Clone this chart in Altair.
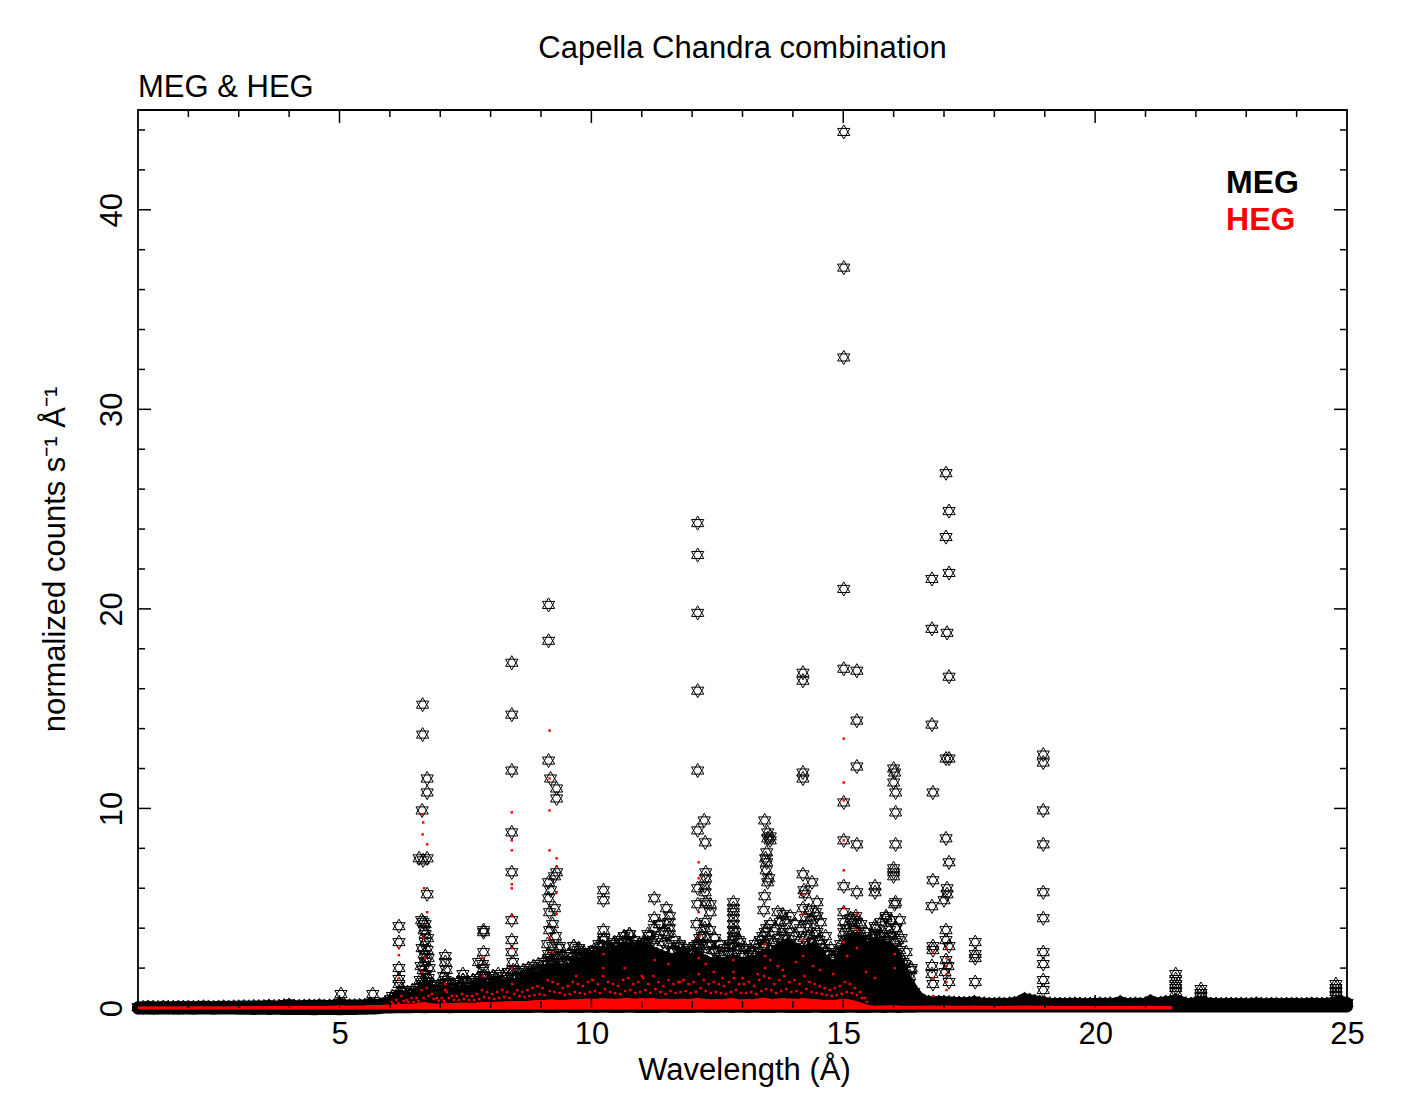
import altair as alt
import pandas as pd

# ------------------------------------------------------------------
# Data
# ------------------------------------------------------------------
# Dense part of the spectra, summarised per 0.1 Å bin (bin centres 1.0, 1.1, ...)
BIN_START = 1.0
BIN_WIDTH = 0.1

# MEG: highest / lowest value of the crowded points in each bin (1.0 .. 25.0 Å)
meg_band_hi = [
    0.04, 0.03, 0.05, 0.04, 0.03, 0.05, 0.04, 0.04, 0.05, 0.04,
    0.05, 0.04, 0.05, 0.06, 0.05, 0.04, 0.05, 0.06, 0.05, 0.06,
    0.06, 0.07, 0.06, 0.08, 0.07, 0.08, 0.10, 0.08, 0.09, 0.12,
    0.15, 0.10, 0.09, 0.10, 0.11, 0.10, 0.12, 0.10, 0.11, 0.13,
    0.20, 0.14, 0.12, 0.12, 0.13, 0.14, 0.20, 0.15, 0.18, 0.25,
    0.30, 0.35, 0.45, 0.45, 0.45, 0.50, 0.60, 0.70, 0.70, 0.65,
    0.70, 0.80, 0.75, 0.80, 0.80, 0.85, 0.85, 0.90, 1.00, 1.00,
    1.05, 1.10, 1.10, 1.15, 1.20, 1.20, 1.30, 1.35, 1.50, 1.55,
    1.60, 1.80, 1.90, 2.00, 1.90, 1.90, 2.00, 2.20, 2.20, 2.40,
    2.50, 2.60, 2.70, 2.50, 2.60, 2.80, 2.90, 3.00, 2.90, 2.80,
    3.00, 2.90, 2.80, 2.70, 2.60, 2.50, 2.40, 2.50, 2.60, 2.50,
    2.40, 2.50, 2.40, 2.30, 2.20, 2.30, 2.20, 2.30, 2.40, 2.30,
    2.20, 2.30, 2.20, 2.40, 2.60, 2.70, 2.60, 2.90, 3.10, 3.20,
    3.00, 2.90, 2.80, 2.90, 3.00, 2.80, 2.40, 2.20, 2.10, 2.20,
    2.80, 3.30, 3.50, 3.40, 3.10, 3.00, 3.10, 3.20, 3.10, 3.00,
    2.80, 2.30, 1.60, 1.20, 0.80, 0.50, 0.35, 0.30, 0.28, 0.30,
    0.30, 0.28, 0.26, 0.25, 0.24, 0.25, 0.30, 0.24, 0.22, 0.20,
    0.20, 0.21, 0.20, 0.22, 0.25, 0.30, 0.45, 0.40, 0.35, 0.30,
    0.25, 0.22, 0.20, 0.20, 0.19, 0.20, 0.21, 0.20, 0.19, 0.20,
    0.20, 0.21, 0.20, 0.22, 0.20, 0.30, 0.20, 0.20, 0.21, 0.20,
    0.21, 0.35, 0.22, 0.25, 0.30, 0.30, 0.40, 0.30, 0.22, 0.20,
    0.25, 0.30, 0.25, 0.20, 0.20, 0.19, 0.20, 0.20, 0.19, 0.20,
    0.19, 0.20, 0.22, 0.20, 0.19, 0.20, 0.20, 0.19, 0.20, 0.20,
    0.20, 0.19, 0.20, 0.21, 0.20, 0.20, 0.20, 0.25, 0.30, 0.30,
    0.25,
]
meg_band_lo = [
    -0.03, -0.02, -0.03, -0.04, -0.03, -0.02, -0.03, -0.03, -0.04, -0.03,
    -0.03, -0.04, -0.03, -0.02, -0.03, -0.04, -0.03, -0.03, -0.02, -0.03,
    -0.04, -0.03, -0.04, -0.05, -0.04, -0.03, -0.05, -0.04, -0.04, -0.05,
    -0.05, -0.04, -0.05, -0.04, -0.05, -0.06, -0.05, -0.04, -0.05, -0.05,
    -0.06, -0.05, -0.04, -0.05, -0.04, -0.04, -0.03, -0.02, 0.00, 0.02,
    0.03, 0.04, 0.04, 0.05, 0.04, 0.05, 0.05, 0.04, 0.05, 0.05,
    0.05, 0.05, 0.04, 0.05, 0.05, 0.06, 0.05, 0.05, 0.06, 0.05,
    0.05, 0.06, 0.05, 0.05, 0.06, 0.05, 0.06, 0.05, 0.05, 0.06,
    0.06, 0.05, 0.06, 0.05, 0.06, 0.06, 0.05, 0.06, 0.05, 0.06,
    0.06, 0.05, 0.06, 0.06, 0.05, 0.06, 0.05, 0.06, 0.06, 0.05,
    0.06, 0.05, 0.06, 0.05, 0.06, 0.06, 0.05, 0.06, 0.05, 0.06,
    0.05, 0.06, 0.06, 0.05, 0.06, 0.05, 0.06, 0.06, 0.05, 0.06,
    0.06, 0.05, 0.06, 0.06, 0.05, 0.06, 0.05, 0.06, 0.06, 0.05,
    0.06, 0.05, 0.06, 0.05, 0.06, 0.06, 0.05, 0.06, 0.05, 0.06,
    0.05, 0.06, 0.06, 0.05, 0.06, 0.05, 0.06, 0.06, 0.05, 0.06,
    0.06, 0.05, 0.06, 0.06, 0.06, 0.07, 0.07, 0.08, 0.07, 0.08,
    0.07, 0.08, 0.07, 0.07, 0.08, 0.07, 0.08, 0.07, 0.07, 0.08,
    0.07, 0.07, 0.08, 0.07, 0.07, 0.08, 0.07, 0.08, 0.07, 0.07,
    0.08, 0.07, 0.07, 0.08, 0.07, 0.07, 0.08, 0.07, 0.07, 0.08,
    0.07, 0.07, 0.08, 0.07, 0.08, 0.07, 0.07, 0.08, 0.07, 0.07,
    0.08, 0.07, 0.07, 0.08, 0.07, 0.07, 0.08, 0.07, 0.07, 0.08,
    0.07, 0.07, 0.08, 0.07, 0.07, 0.08, 0.07, 0.07, 0.08, 0.07,
    0.07, 0.08, 0.07, 0.07, 0.08, 0.07, 0.07, 0.08, 0.07, 0.07,
    0.08, 0.07, 0.07, 0.08, 0.07, 0.07, 0.08, 0.07, 0.07, 0.08,
    0.07,
]

# MEG: scattered stars above the crowded band, two per bin (6.05 .. 16.35 Å)
MEG_SCATTER_START = 6.05
meg_scatter_top = [
    0.6, 0.7, 0.9, 0.8, 0.9, 1.0, 1.2, 1.3, 1.2, 1.1,
    1.2, 1.3, 1.2, 1.3, 1.4, 1.3, 1.4, 1.5, 1.6, 1.5,
    1.6, 1.7, 1.6, 1.8, 1.9, 1.8, 1.9, 2.0, 2.1, 2.2,
    2.3, 2.5, 2.6, 3.0, 2.6, 2.7, 3.1, 3.0, 2.8, 2.7,
    2.9, 3.2, 3.5, 3.0, 3.2, 3.4, 3.6, 3.7, 3.4, 3.2,
    3.3, 3.6, 4.0, 4.2, 3.8, 4.0, 3.4, 3.2, 3.0, 2.9,
    3.1, 3.5, 4.0, 3.9, 3.5, 3.2, 3.0, 3.2, 3.8, 3.3,
    3.0, 2.9, 3.2, 3.4, 3.8, 4.2, 4.0, 4.3, 4.4, 4.6,
    4.2, 4.0, 4.5, 4.4, 4.8, 4.3, 3.6, 3.0, 2.8, 3.2,
    4.0, 4.5, 4.6, 4.2, 3.8, 3.6, 4.0, 4.3, 4.6, 4.4,
    4.0, 3.5, 2.8, 2.0,
]
meg_scatter_mid = [
    0.45, 0.55, 0.65, 0.6, 0.7, 0.75, 0.9, 1.0, 0.95, 0.9,
    0.95, 1.05, 1.0, 1.05, 1.1, 1.05, 1.1, 1.2, 1.3, 1.25,
    1.3, 1.4, 1.35, 1.45, 1.55, 1.5, 1.6, 1.7, 1.8, 1.9,
    2.0, 2.2, 2.3, 2.5, 2.3, 2.3, 2.6, 2.6, 2.5, 2.6,
    2.8, 2.9, 3.1, 2.8, 2.9, 3.1, 3.3, 3.4, 3.2, 3.1,
    3.2, 3.3, 3.4, 3.5, 3.3, 3.2, 2.9, 2.8, 2.8, 2.7,
    2.8, 3.0, 3.2, 3.1, 2.9, 2.8, 2.7, 2.8, 3.1, 2.9,
    2.7, 2.7, 2.8, 3.0, 3.2, 3.4, 3.3, 3.5, 3.6, 3.8,
    3.6, 3.4, 3.5, 3.6, 3.7, 3.4, 3.0, 2.7, 2.5, 2.8,
    3.4, 3.8, 3.9, 3.7, 3.4, 3.3, 3.5, 3.6, 3.7, 3.6,
    3.3, 2.9, 2.2, 1.6,
]

# HEG: top of the crowded red points per bin (1.0 .. 21.5 Å)
heg_band_hi = [
    0.00, 0.01, 0.00, 0.01, 0.00, 0.01, 0.00, 0.01, 0.00, 0.01,
    0.01, 0.00, 0.01, 0.01, 0.00, 0.01, 0.01, 0.00, 0.01, 0.01,
    0.01, 0.02, 0.01, 0.02, 0.02, 0.01, 0.03, 0.02, 0.02, 0.03,
    0.04, 0.03, 0.02, 0.03, 0.04, 0.03, 0.04, 0.03, 0.04, 0.05,
    0.08, 0.05, 0.04, 0.05, 0.05, 0.06, 0.08, 0.07, 0.08, 0.10,
    0.10, 0.10, 0.12, 0.12, 0.14, 0.15, 0.20, 0.22, 0.18, 0.15,
    0.16, 0.20, 0.18, 0.18, 0.20, 0.20, 0.19, 0.20, 0.22, 0.22,
    0.22, 0.24, 0.24, 0.26, 0.28, 0.27, 0.27, 0.28, 0.30, 0.32,
    0.32, 0.34, 0.36, 0.34, 0.33, 0.34, 0.36, 0.36, 0.38, 0.40,
    0.40, 0.38, 0.42, 0.40, 0.40, 0.38, 0.42, 0.44, 0.40, 0.40,
    0.42, 0.40, 0.44, 0.40, 0.38, 0.40, 0.36, 0.38, 0.40, 0.38,
    0.40, 0.42, 0.40, 0.38, 0.36, 0.38, 0.36, 0.40, 0.42, 0.38,
    0.36, 0.38, 0.36, 0.40, 0.44, 0.42, 0.38, 0.40, 0.42, 0.40,
    0.40, 0.38, 0.42, 0.40, 0.38, 0.36, 0.34, 0.33, 0.33, 0.36,
    0.40, 0.36, 0.32, 0.24, 0.14, 0.08, 0.05, 0.04, 0.05, 0.06,
    0.08, 0.05, 0.04, 0.04, 0.04, 0.04, 0.05, 0.05, 0.05, 0.04,
    0.06, 0.05, 0.04, 0.04, 0.04, 0.04, 0.05, 0.04, 0.04, 0.04,
    0.04, 0.03, 0.04, 0.04, 0.04, 0.05, 0.05, 0.05, 0.04, 0.05,
    0.05, 0.04, 0.03, 0.03, 0.03, 0.04, 0.03, 0.03, 0.03, 0.03,
    0.03, 0.03, 0.03, 0.04, 0.03, 0.03, 0.03, 0.04, 0.03, 0.03,
    0.03, 0.04, 0.03, 0.03, 0.03, 0.03,
]

# HEG: scattered red points above the crowded band, two per bin (6.0 .. 15.4 Å)
HEG_SCATTER_START = 6.0
heg_scatter_top = [
    0.3, 0.4, 0.6, 0.4, 0.5, 0.5, 0.9, 1.0, 0.7, 0.5,
    0.5, 0.8, 0.6, 0.6, 0.7, 0.6, 0.6, 0.7, 0.9, 0.8,
    0.7, 0.8, 0.9, 0.8, 1.2, 0.9, 0.8, 0.9, 1.0, 1.1,
    1.0, 1.4, 1.3, 1.2, 1.0, 1.1, 1.3, 1.2, 1.1, 1.3,
    1.4, 1.2, 1.6, 1.3, 1.2, 1.1, 1.4, 1.5, 1.2, 1.3,
    1.5, 1.2, 1.6, 1.3, 1.1, 1.4, 1.2, 1.3, 1.4, 1.2,
    1.3, 1.7, 1.4, 1.2, 1.3, 1.2, 1.1, 1.3, 1.5, 1.2,
    1.2, 1.3, 1.1, 1.4, 1.6, 1.5, 1.2, 1.4, 1.6, 1.3,
    1.4, 1.2, 1.6, 1.3, 1.2, 1.1, 1.0, 0.9, 1.0, 1.1,
    1.3, 1.2, 1.0, 0.8, 0.5,
]
heg_scatter_mid = [
    0.2, 0.25, 0.35, 0.3, 0.3, 0.35, 0.5, 0.6, 0.45, 0.35,
    0.35, 0.5, 0.4, 0.4, 0.45, 0.4, 0.4, 0.45, 0.55, 0.5,
    0.45, 0.5, 0.55, 0.5, 0.7, 0.6, 0.55, 0.6, 0.65, 0.7,
    0.65, 0.85, 0.8, 0.75, 0.65, 0.7, 0.8, 0.75, 0.7, 0.8,
    0.85, 0.75, 0.95, 0.8, 0.75, 0.7, 0.85, 0.9, 0.75, 0.8,
    0.9, 0.75, 0.95, 0.8, 0.7, 0.85, 0.75, 0.8, 0.85, 0.75,
    0.8, 1.0, 0.85, 0.75, 0.8, 0.75, 0.7, 0.8, 0.9, 0.75,
    0.75, 0.8, 0.7, 0.85, 0.95, 0.9, 0.75, 0.85, 0.95, 0.8,
    0.85, 0.75, 0.95, 0.8, 0.75, 0.7, 0.65, 0.6, 0.65, 0.7,
    0.8, 0.75, 0.65, 0.5, 0.3,
]

# MEG points standing out above the crowded band (emission lines)
meg_peak_wave = [
    6.18, 6.18, 6.18, 6.18, 6.18,
    6.65, 6.65, 6.74, 6.74, 6.64, 6.58, 6.74, 6.66, 6.74, 6.63,
    6.70, 6.66, 6.70, 6.68, 6.70, 6.66, 6.72, 6.68, 6.62, 6.75,
    6.74, 6.68, 6.64, 6.76, 6.62, 6.76, 6.74, 6.60, 6.70, 6.78,
    7.10, 7.10, 7.10, 7.07, 7.45, 7.45, 7.12, 7.43,
    7.86, 7.86, 7.86, 7.76, 7.86, 7.88, 7.84, 7.80,
    8.42, 8.42, 8.42, 8.42, 8.42, 8.42, 8.42, 8.42, 8.42, 8.44,
    9.15, 9.15, 9.15, 9.19, 9.31, 9.31, 9.31, 9.27, 9.15, 9.15,
    9.17, 9.17, 9.13, 9.23, 9.19, 9.27, 9.23, 9.29, 9.15, 9.21,
    9.45, 9.65, 9.65, 9.73, 9.37, 9.37, 9.75, 9.99, 9.58, 9.87,
    10.24, 10.24, 10.24, 10.24, 10.24, 10.46, 10.76, 10.70, 10.32, 10.64,
    11.25, 11.12, 11.25, 11.35, 11.06, 11.49, 11.53, 11.53, 11.73, 11.61, 11.55,
    12.11, 12.11, 12.11, 12.11, 12.11, 12.11, 12.11, 12.11, 12.11,
    12.24, 12.26, 12.27, 12.27, 12.25, 12.26, 12.27, 12.26, 12.36, 12.36,
    12.09, 12.13, 12.35, 12.17, 12.13, 12.44, 12.20,
    12.82, 12.82, 12.82, 12.82, 12.82, 12.82, 12.82, 12.82, 12.82, 12.92,
    13.44, 13.50, 13.50, 13.48, 13.46, 13.48, 13.47, 13.50, 13.44, 13.42,
    13.48, 13.42, 13.55, 13.55, 13.70, 13.80, 13.80, 13.52, 13.40, 13.60,
    14.20, 14.20, 14.20, 14.20, 14.20, 14.22, 14.24, 14.20,
    14.38, 14.38, 14.48, 14.48, 14.48, 14.28, 14.65, 14.18, 14.32, 14.56,
    15.01, 15.01, 15.01, 15.01, 15.01, 15.01, 15.01, 15.01, 15.01, 15.01, 15.01, 15.08,
    15.27, 15.27, 15.27, 15.27, 15.27, 15.27, 15.45, 15.45, 15.30, 15.20,
    15.63, 15.63, 15.63, 15.63, 15.85, 15.85, 15.85, 15.75, 15.55, 15.92,
    16.00, 16.02, 16.00, 16.04, 16.04, 16.04, 16.00, 16.00, 16.00, 16.04,
    16.02, 16.04, 16.04, 16.19, 16.34, 16.08, 16.12,
    16.76, 16.76, 16.76, 16.78, 16.78, 16.76, 16.78, 16.76, 16.78, 16.78, 16.76,
    17.04, 17.10, 17.04, 17.10, 17.06, 17.10, 17.04, 17.10, 17.04, 17.10,
    17.06, 17.00, 17.04, 17.04, 17.10, 17.04, 17.10, 17.06, 17.02, 17.08,
    17.62, 17.62, 17.62, 17.62,
    18.97, 18.97, 18.97, 18.97, 18.97, 18.97, 18.97, 18.97, 18.97, 18.97,
    21.60, 21.60, 21.60, 21.60, 21.60, 22.10, 22.10, 22.10,
    24.78, 24.78, 24.78, 24.78, 5.03, 5.66,
]
meg_peak_flux = [
    4.1, 3.3, 2.0, 1.45, 1.2,
    15.2, 13.7, 11.5, 10.8, 9.9, 7.5, 7.5, 7.4, 5.7, 4.4,
    4.2, 4.3, 3.3, 2.7, 2.3, 1.9, 1.7, 1.3, 0.8, 3.5,
    2.9, 3.9, 3.0, 2.5, 2.1, 1.5, 1.1, 1.4, 3.7, 2.0,
    2.6, 2.3, 1.4, 1.6, 1.7, 1.4, 1.9, 1.1,
    3.9, 3.8, 2.8, 2.3, 2.0, 1.6, 2.2, 1.3,
    17.3, 14.7, 11.9, 8.8, 6.8, 4.4, 3.4, 2.8, 1.8, 2.3,
    20.2, 18.4, 12.4, 11.5, 11.0, 10.5, 6.8, 6.6, 6.3, 5.5,
    4.8, 3.9, 3.2, 3.1, 5.9, 5.0, 4.2, 3.6, 2.7, 2.4,
    2.6, 3.1, 2.3, 2.9, 3.1, 2.6, 2.7, 2.8, 2.4, 2.6,
    5.9, 5.4, 3.9, 3.4, 2.8, 3.3, 3.7, 3.3, 2.65, 3.0,
    5.5, 3.7, 4.5, 4.2, 3.1, 5.0, 4.3, 3.7, 3.1, 2.8, 4.6,
    24.3, 22.7, 19.8, 15.9, 11.9, 8.9, 6.0, 5.2, 3.2,
    9.4, 8.3, 6.8, 6.5, 6.1, 5.8, 5.3, 4.3, 5.2, 4.8,
    4.2, 3.2, 3.2, 2.6, 2.3, 2.9, 3.6,
    5.3, 5.0, 4.8, 4.5, 4.2, 3.9, 3.6, 3.4, 2.7, 3.4,
    9.4, 8.8, 8.5, 7.8, 7.5, 7.3, 6.9, 6.3, 5.6, 4.9,
    4.0, 3.1, 8.6, 8.4, 4.8, 4.7, 3.8, 6.5, 3.6, 3.3,
    16.8, 16.4, 11.8, 11.5, 6.7, 5.9, 5.7, 5.0,
    6.3, 3.3, 5.3, 4.6, 3.8, 4.2, 2.8, 2.6, 4.9, 3.2,
    43.9, 37.1, 32.6, 21.0, 17.0, 10.3, 8.4, 6.1, 4.8, 4.3, 3.8, 3.4,
    16.9, 14.4, 12.1, 8.2, 5.8, 4.3, 3.3, 2.8, 3.6, 4.4,
    6.1, 5.8, 4.1, 3.7, 4.5, 3.4, 2.8, 3.6, 3.1, 3.9,
    12.0, 11.8, 11.3, 10.8, 9.8, 8.2, 7.0, 6.8, 6.6, 5.3,
    5.2, 4.0, 2.7, 2.3, 1.9, 3.4, 4.4,
    21.5, 19.0, 14.2, 10.8, 6.4, 5.1, 2.9, 2.1, 1.2, 3.1, 1.7,
    26.8, 24.9, 23.6, 21.8, 18.8, 16.6, 12.5, 12.5, 8.5, 7.3,
    6.0, 5.4, 3.9, 3.4, 3.1, 2.4, 1.3, 5.7, 1.8, 2.1,
    3.3, 2.7, 2.5, 1.3,
    12.7, 12.3, 9.9, 8.2, 5.8, 4.5, 2.8, 2.2, 1.4, 0.9,
    1.7, 1.45, 1.2, 1.0, 0.8, 0.95, 0.75, 0.55,
    1.2, 1.0, 0.8, 0.6, 0.7, 0.7,
]

# HEG points standing out above the crowded band
heg_peak_wave = [
    6.65, 6.66, 6.65, 6.74, 6.74, 6.68, 6.66, 6.70, 6.64,
    6.18, 6.18, 6.18,
    7.10, 7.10, 7.85, 7.85,
    8.42, 8.42, 8.42, 8.42, 8.42, 8.42, 8.42, 8.42,
    9.17, 9.17, 9.17, 9.17, 9.31, 9.31, 9.31, 9.31, 9.17, 9.23,
    10.24, 10.24,
    12.13, 12.13, 12.13, 12.15, 12.13, 12.27,
    12.82, 12.82,
    13.45, 13.45, 13.45, 13.55,
    14.20, 14.20, 14.20, 14.20,
    15.01, 15.01, 15.01, 15.01, 15.01, 15.01, 15.01,
    15.27, 15.27, 15.27,
    16.02, 16.02,
    16.78, 16.78, 16.78,
    17.05, 17.05, 17.05, 17.05, 17.05, 17.05,
    10.66, 11.00, 11.26, 11.53, 12.43, 13.00, 13.30, 13.70, 14.06, 14.54,
    15.08, 15.45, 15.63, 13.80, 14.40, 10.02, 9.70, 11.75, 12.60, 14.80,
]
heg_peak_flux = [
    9.7, 9.3, 8.7, 8.2, 4.8, 6.0, 3.5, 2.5, 1.8,
    3.0, 2.65, 1.5,
    1.2, 0.9, 2.5, 1.6,
    9.8, 8.4, 7.9, 6.2, 6.0, 4.6, 3.0, 2.0,
    13.9, 11.5, 9.9, 7.9, 7.5, 7.1, 5.8, 4.7, 3.5, 2.8,
    2.7, 2.0,
    7.3, 6.5, 4.8, 3.6, 2.5, 2.2,
    2.4, 1.8,
    3.2, 2.6, 2.0, 2.4,
    5.7, 4.7, 3.4, 2.6,
    13.5, 11.3, 10.4, 8.4, 6.9, 5.0, 3.3,
    4.7, 3.9, 3.0,
    2.7, 2.0,
    2.8, 1.5, 0.6,
    3.0, 2.5, 2.1, 1.7, 1.3, 0.9,
    2.0, 1.6, 2.4, 2.2, 1.8, 1.5, 1.7, 2.1, 2.3, 1.9,
    2.6, 1.8, 1.5, 1.9, 2.1, 1.4, 1.6, 1.3, 1.5, 1.7,
]

# axes
x_label_values = [5, 10, 15, 20, 25]
y_label_values = [0, 10, 20, 30, 40]
x_major_ticks = [5, 10, 15, 20]
x_minor_ticks = [2, 3, 4, 6, 7, 8, 9, 11, 12, 13, 14, 16, 17, 18, 19, 21, 22, 23, 24]
y_major_ticks = [10, 20, 30, 40]
y_minor_ticks = [2, 4, 6, 8, 12, 14, 16, 18, 22, 24, 26, 28, 32, 34, 36, 38, 42, 44]

# legend
legend_label = ["MEG", "HEG"]
legend_color = ["#000000", "#ff0000"]
legend_x = [22.6, 22.6]
legend_y = [40.85, 39.0]

# ------------------------------------------------------------------
# Tables
# ------------------------------------------------------------------
def grid(start, n, offset=0.0):
    return [round(start + offset + i * BIN_WIDTH, 3) for i in range(n)]

meg_band = pd.DataFrame({
    "wave": grid(BIN_START, len(meg_band_hi)),
    "hi": meg_band_hi,
    "lo": meg_band_lo,
})
meg_scatter = pd.DataFrame({
    "wave": grid(MEG_SCATTER_START, len(meg_scatter_top))
    + grid(MEG_SCATTER_START, len(meg_scatter_mid), -0.03),
    "flux": meg_scatter_top + meg_scatter_mid,
})
heg_band = pd.DataFrame({
    "wave": grid(BIN_START, len(heg_band_hi)),
    "hi": heg_band_hi,
})
heg_scatter = pd.DataFrame({
    "wave": grid(HEG_SCATTER_START, len(heg_scatter_top), 0.03)
    + grid(HEG_SCATTER_START, len(heg_scatter_mid), 0.07),
    "flux": heg_scatter_top + heg_scatter_mid,
})
meg_peaks = pd.DataFrame({"wave": meg_peak_wave, "flux": meg_peak_flux})
heg_peaks = pd.DataFrame({"wave": heg_peak_wave, "flux": heg_peak_flux})
legend_df = pd.DataFrame({"label": legend_label, "color": legend_color,
                          "x": legend_x, "y": legend_y})

W, H = 1209, 898
FONT = "Liberation Sans"
FS = 31
STAR = "M0,-1L0.866,0.5L-0.866,0.5Z M0,1L0.866,-0.5L-0.866,-0.5Z"

xs = alt.Scale(domain=[1, 25], nice=False, zero=False)
ys = alt.Scale(domain=[0, 45], nice=False, zero=False)

x_axis = alt.Axis(
    values=x_label_values, format="d", labelFlush=False, labelOverlap=False,
    labelBaseline="alphabetic", labelPadding=35,
    title="Wavelength (Å)", titleX=606, titleY=71,
    titleAlign="center", titleBaseline="alphabetic",
)
y_axis = alt.Axis(
    values=y_label_values, format="d", labelOverlap=False,
    labelAngle=270, labelAlign="center", labelBaseline="alphabetic", labelPadding=17,
    title="normalized counts s⁻¹ Å⁻¹", titleAngle=270, titleX=-74, titleY=449,
    titleAlign="center", titleBaseline="alphabetic",
)

def X(field):
    return alt.X(field, scale=xs, axis=x_axis)

def Y(field):
    return alt.Y(field, scale=ys, axis=y_axis)

# MEG crowded band (range per bin) ------------------------------------------
band = alt.Chart(meg_band).mark_area(
    color="black", stroke="black", strokeWidth=12, strokeJoin="round", opacity=1
).encode(x=X("wave:Q"), y=Y("hi:Q"), y2="lo:Q")

star_mark = dict(shape=STAR, size=200, filled=False, color="black", strokeWidth=1, opacity=1)
band_stars = alt.Chart(meg_band).mark_point(**star_mark).encode(x=X("wave:Q"), y=Y("hi:Q"))
scatter_stars = alt.Chart(meg_scatter).mark_point(**star_mark).encode(x=X("wave:Q"), y=Y("flux:Q"))
meg_stars = alt.Chart(meg_peaks).mark_point(**star_mark).encode(x=X("wave:Q"), y=Y("flux:Q"))

# HEG --------------------------------------------------------------------------
heg_area = alt.Chart(heg_band).mark_area(
    color="#ff0000", stroke="#ff0000", strokeWidth=3, opacity=1
).encode(x=X("wave:Q"), y=Y("hi:Q"))
heg_dots = alt.Chart(heg_scatter).mark_square(size=6, color="#ff0000", opacity=1).encode(
    x=X("wave:Q"), y=Y("flux:Q"))
heg_peak_dots = alt.Chart(heg_peaks).mark_square(size=6, color="#ff0000", opacity=1).encode(
    x=X("wave:Q"), y=Y("flux:Q"))

# inward ticks on all four sides ---------------------------------------------
def xticks(vals, length, bottom):
    df = pd.DataFrame({"t": vals})
    y0 = H if bottom else 0
    y1 = H - length if bottom else length
    return alt.Chart(df).mark_rule(color="black", strokeWidth=1.5).encode(
        x=X("t:Q"), y=alt.value(y0), y2=alt.value(y1))

def yticks(vals, length, left):
    df = pd.DataFrame({"t": vals})
    x0 = 0 if left else W
    x1 = length if left else W - length
    return alt.Chart(df).mark_rule(color="black", strokeWidth=1.5).encode(
        y=Y("t:Q"), x=alt.value(x0), x2=alt.value(x1))

tick_layers = [
    xticks(x_major_ticks, 13, True), xticks(x_minor_ticks, 7, True),
    xticks(x_major_ticks, 13, False), xticks(x_minor_ticks, 7, False),
    yticks(y_major_ticks, 13, True), yticks(y_minor_ticks, 7, True),
    yticks(y_major_ticks, 13, False), yticks(y_minor_ticks, 7, False),
]

# titles -------------------------------------------------------------------------
title = alt.Chart(pd.DataFrame({"t": ["Capella Chandra combination"]})).mark_text(
    font=FONT, fontSize=FS, color="black", align="center", baseline="alphabetic"
).encode(text="t:N", x=alt.value(W / 2), y=alt.value(-52))

subtitle = alt.Chart(pd.DataFrame({"t": ["MEG & HEG"]})).mark_text(
    font=FONT, fontSize=FS, color="black", align="left", baseline="alphabetic"
).encode(text="t:N", x=alt.value(0), y=alt.value(-13))

legend = alt.Chart(legend_df).mark_text(
    font=FONT, fontSize=32, fontWeight="bold", align="left", baseline="alphabetic"
).encode(
    x=X("x:Q"), y=Y("y:Q"),
    text="label:N",
    color=alt.Color("color:N", scale=None),
)

chart = alt.layer(
    band, band_stars, scatter_stars, meg_stars, heg_area, heg_dots, heg_peak_dots,
    *tick_layers, title, subtitle, legend,
).properties(
    width=W, height=H, autosize="none",
    padding={"left": 130, "top": 102, "right": 49, "bottom": 94},
).configure_view(
    stroke="black", strokeWidth=1.8
).configure_axis(
    grid=False, domain=False, ticks=False, tickSize=0,
    labelFont=FONT, labelFontSize=FS, labelColor="black",
    titleFont=FONT, titleFontSize=FS, titleFontWeight="normal", titleColor="black",
)

chart.save("out.html", embed_options={"renderer": "svg", "actions": False})
